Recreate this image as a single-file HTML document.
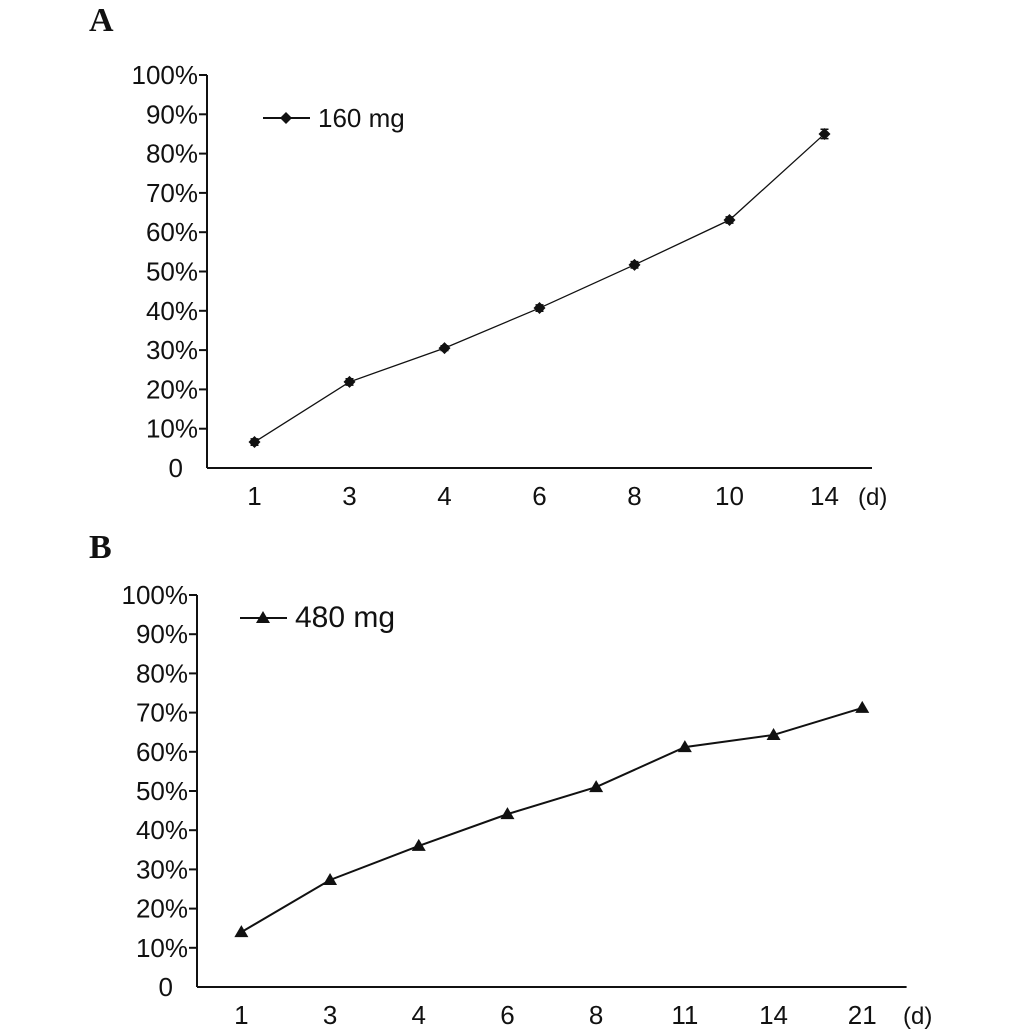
<!DOCTYPE html>
<html><head><meta charset="utf-8"><style>
html,body{margin:0;padding:0;background:#fff}
svg{display:block}
text{font-family:"Liberation Sans",sans-serif;fill:#111}
</style></head><body>
<svg id="chart" width="1033" height="1036" viewBox="0 0 1033 1036" xmlns="http://www.w3.org/2000/svg">
<text x="89" y="31" style="font-family:'Liberation Serif',serif;font-weight:bold;font-size:34px">A</text>
<text x="89" y="558" style="font-family:'Liberation Serif',serif;font-weight:bold;font-size:34px">B</text>
<g id="pa"></g>
<g id="pb"></g>
</svg>
<script>
const catsA = ["1","3","4","6","8","10","14"];
const valsA = [6.6,21.9,30.5,40.7,51.7,63.1,85.0];
const errA = [0.8,0.8,0.6,0.8,0.8,0.8,1.2];
const catsB = ["1","3","4","6","8","11","14","21"];
const valsB = [14.0,27.3,36.0,44.1,51.0,61.2,64.3,71.2];
const yTicks = ["0","10%","20%","30%","40%","50%","60%","70%","80%","90%","100%"];
const NS="http://www.w3.org/2000/svg";
function mk(p,tag,at){const e=document.createElementNS(NS,tag);for(const k in at)e.setAttribute(k,at[k]);p.appendChild(e);return e;}
function draw(g,cfg){
  const y=v=>cfg.y0-(v/100)*(cfg.y0-cfg.y100);
  const x=i=>cfg.x0+cfg.band*(i+0.5);
  const xEnd=cfg.x0+cfg.band*cfg.cats.length;
  let a=mk(g,'line',{x1:cfg.x0,y1:cfg.y100,x2:cfg.x0,y2:cfg.y0,stroke:'#111','stroke-width':2});
  
  
  a=mk(g,'line',{x1:cfg.x0,y1:cfg.y0,x2:xEnd,y2:cfg.y0,stroke:'#111','stroke-width':2});
  
  
  yTicks.forEach((t,i)=>{
    const v=i*10, yy=y(v);
    if(i>0){const tk=mk(g,'line',{x1:cfg.x0-8,y1:yy,x2:cfg.x0,y2:yy,stroke:'#111','stroke-width':2});
    
    }
    const tx=mk(g,'text',{x:cfg.x0-(i==0?24:9),y:yy+9,'text-anchor':'end','font-size':cfg.fs});
    tx.textContent=t;
    
    
  });
  cfg.cats.forEach((c,i)=>{
    const tx=mk(g,'text',{x:x(i),y:cfg.y0+37,'text-anchor':'middle','font-size':cfg.fs});
    tx.textContent=c;
    
    
  });
  const d=mk(g,'text',{x:cfg.dx,y:cfg.y0+37,'font-size':cfg.fs-2});
  d.textContent='(d)';
  
  
  const pts=cfg.vals.map((v,i)=>x(i)+','+y(v)).join(' ');
  const pl=mk(g,'polyline',{points:pts,fill:'none',stroke:'#111','stroke-width':cfg.lw});
  
  
  const marker=(px,py)=>{
    let m;
    if(cfg.tri) m=mk(g,'polygon',{points:`${px},${py-7} ${px-7},${py+5} ${px+7},${py+5}`,fill:'#111'});
    else m=mk(g,'polygon',{points:`${px},${py-6} ${px+6},${py} ${px},${py+6} ${px-6},${py}`,fill:'#111'});
    return m;
  };
  cfg.vals.forEach((v,i)=>{
    if(cfg.err){const e=cfg.err[i];const eb=mk(g,'path',{d:`M${x(i)-4},${y(v+e)}H${x(i)+4}M${x(i)},${y(v+e)}V${y(v-e)}M${x(i)-4},${y(v-e)}H${x(i)+4}`,stroke:'#111','stroke-width':1.5,fill:'none'});
    
    }
    const m=marker(x(i),y(v));
    
    
  });
  const lg=mk(g,'line',{x1:cfg.lx,y1:cfg.ly,x2:cfg.lx+47,y2:cfg.ly,stroke:'#111','stroke-width':2});
  
  
  const lm=marker(cfg.lx+23,cfg.ly);
  
  
  const lt=mk(g,'text',{x:cfg.lx+55,y:cfg.ly+9,'font-size':cfg.lfs});
  lt.textContent=cfg.label;
  
  
}
draw(document.getElementById('pa'),{cats:catsA,vals:valsA,err:errA,x0:207,y0:468,y100:75,band:95,lw:1.3,tri:false,lx:263,ly:118,label:'160 mg',lfs:26,fs:26,dx:858});
draw(document.getElementById('pb'),{cats:catsB,vals:valsB,err:null,x0:197,y0:987,y100:595,band:88.7,lw:2,tri:true,lx:240,ly:618,label:'480 mg',lfs:30,fs:26,dx:903});
</script>
</body></html>
